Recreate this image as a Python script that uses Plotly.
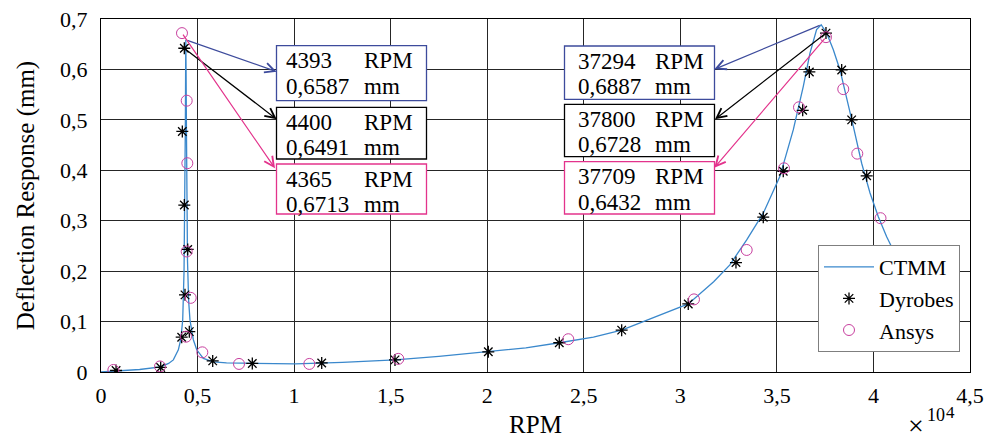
import plotly.graph_objects as go

# ---------------- data ----------------
ctmm_rpm = [0, 1000, 2000, 3091, 3500, 3746, 4005, 4128, 4231, 4300, 4340, 4370, 4385, 4393,
            4405, 4425, 4450, 4480, 4540, 4608, 4781, 4957, 5300, 5818, 6500, 7720, 9000,
            10052, 12500, 15224, 17500, 20056, 22000, 23732, 25500, 26962, 28098, 29500,
            30411, 31726, 32554, 33436, 34295, 35158, 35848, 36365, 36711, 37056, 37294,
            37577, 37922, 38268, 38613, 38958, 39390, 39822, 40253, 40685, 41223, 41500]
ctmm_mm = [0.000, 0.003, 0.005, 0.010, 0.017, 0.024, 0.044, 0.064, 0.103, 0.200, 0.330, 0.500,
           0.620, 0.6587, 0.600, 0.480, 0.330, 0.220, 0.140, 0.103, 0.064, 0.044, 0.027, 0.020,
           0.018, 0.017, 0.016, 0.016, 0.019, 0.024, 0.031, 0.040, 0.048, 0.058, 0.069, 0.083,
           0.100, 0.120, 0.135, 0.179, 0.212, 0.262, 0.315, 0.388, 0.480, 0.566, 0.632, 0.679,
           0.6887, 0.672, 0.639, 0.599, 0.546, 0.487, 0.414, 0.355, 0.308, 0.268, 0.226, 0.212]

dyrobes_rpm = [780, 3091, 4179, 4573, 4350, 4490, 4314, 4211, 4314, 5784, 7835, 11429, 15224,
               20056, 23732, 26962, 30411, 32881, 34295, 35330, 36336, 36681, 37542, 38355,
               38872, 39650]
dyrobes_mm = [0.003, 0.009, 0.069, 0.080, 0.153, 0.243, 0.331, 0.477, 0.642, 0.022, 0.017,
              0.018, 0.024, 0.040, 0.058, 0.083, 0.135, 0.217, 0.307, 0.398, 0.519, 0.595,
              0.672, 0.599, 0.500, 0.389]

ansys_rpm = [640, 3055, 4401, 4645, 4438, 4470, 4438, 4194, 5246, 7146, 10786, 15395, 24197,
             30707, 33436, 35367, 36145, 37542, 38437, 39163, 40366, 41230]
ansys_mm = [0.004, 0.011, 0.070, 0.147, 0.239, 0.414, 0.538, 0.672, 0.039, 0.016, 0.016,
            0.026, 0.065, 0.144, 0.242, 0.404, 0.525, 0.664, 0.561, 0.433, 0.305, 0.228]

x_tick_vals = [0, 5000, 10000, 15000, 20000, 25000, 30000, 35000, 40000, 45000]
x_tick_text = ["0", "0,5", "1", "1,5", "2", "2,5", "3", "3,5", "4", "4,5"]
y_tick_vals = [0, 0.1, 0.2, 0.3, 0.4, 0.5, 0.6, 0.7]
y_tick_text = ["0", "0,1", "0,2", "0,3", "0,4", "0,5", "0,6", "0,7"]

series_names = ["CTMM", "Dyrobes", "Ansys"]
peak_rpm_left = [4393, 4400, 4365]
peak_mm_left = ["0,6587", "0,6491", "0,6713"]
peak_rpm_right = [37294, 37800, 37709]
peak_mm_right = ["0,6887", "0,6728", "0,6432"]

# ---------------- geometry ----------------
W, H = 999, 442
L, R, T, B = 101, 29, 19, 70
PW, PH = W - L - R, H - T - B
XMAX, YMAX = 45000, 0.7
FONT = "Liberation Serif"


def px_paper_x(p):
    return (p - L) / PW


def px_paper_y(p):
    return (H - B - p) / PH


def px_data_x(p):
    return px_paper_x(p) * XMAX


def px_data_y(p):
    return px_paper_y(p) * YMAX


BLUE_LINE = "#3a88cc"
BOX_COLORS = ["#3d4b9c", "#000000", "#e3338c"]
MAG = "#c8409f"

fig = go.Figure()
fig.add_trace(go.Scatter(x=ctmm_rpm, y=ctmm_mm, mode="lines", name="CTMM",
                         line=dict(color=BLUE_LINE, width=1.3)))
fig.add_trace(go.Scatter(x=dyrobes_rpm, y=dyrobes_mm, mode="markers", name="Dyrobes",
                         marker=dict(symbol="asterisk-open", size=10, color="black",
                                     line=dict(color="black", width=1.3))))
fig.add_trace(go.Scatter(x=ansys_rpm, y=ansys_mm, mode="markers", name="Ansys",
                         marker=dict(symbol="circle-open", size=11, color=MAG,
                                     line=dict(color=MAG, width=1))))

shapes = []
annotations = []

# box geometry (pixel positions)
boxes = {
    "left": dict(x0=276.5, x1=426.5, xnum=284.5, xunit=362.5,
                 tops=[45.7, 107.3, 164.0], bots=[100.7, 159.0, 214.0],
                 heads=[(276.7, 71.7), (276.7, 119.3), (275.0, 168.3)]),
    "right": dict(x0=564.5, x1=714.5, xnum=576.5, xunit=654.0,
                  tops=[46.0, 104.3, 161.7], bots=[99.3, 156.7, 214.0],
                  heads=[(714.3, 69.3), (715.0, 119.3), (714.3, 167.7)]),
}

all_series = [(ctmm_rpm, ctmm_mm), (dyrobes_rpm, dyrobes_mm), (ansys_rpm, ansys_mm)]


def peak_point(xs, ys, side):
    pts = [(x, y) for x, y in zip(xs, ys) if (x < 20000) == (side == "left")]
    return max(pts, key=lambda p: p[1])


for side, rpms, mms in [("left", peak_rpm_left, peak_mm_left),
                        ("right", peak_rpm_right, peak_mm_right)]:
    g = boxes[side]
    for i in range(3):
        col = BOX_COLORS[i]
        top, bot = g["tops"][i], g["bots"][i]
        shapes.append(dict(type="rect", xref="paper", yref="paper",
                           x0=px_paper_x(g["x0"]), x1=px_paper_x(g["x1"]),
                           y0=px_paper_y(bot), y1=px_paper_y(top),
                           line=dict(color=col, width=1.3), fillcolor="white", layer="above"))
        l1 = top + 15.0
        l2 = top + 40.5
        for txt, xp, yp in [(str(rpms[i]), g["xnum"], l1), ("RPM", g["xunit"], l1),
                            (mms[i], g["xnum"], l2), ("mm", g["xunit"], l2)]:
            annotations.append(dict(text=txt, xref="paper", yref="paper",
                                    x=px_paper_x(xp), y=px_paper_y(yp),
                                    xanchor="left", yanchor="middle", showarrow=False,
                                    borderpad=0,
                                    font=dict(family=FONT, size=23, color="black")))
        tx, ty = peak_point(all_series[i][0], all_series[i][1], side)
        hx, hy = g["heads"][i]
        annotations.append(dict(text="", x=px_data_x(hx), y=px_data_y(hy), xref="x", yref="y",
                                ax=tx, ay=ty, axref="x", ayref="y", showarrow=True,
                                arrowhead=5, arrowsize=1.6, arrowwidth=1.2, arrowcolor=col,
                                standoff=0, startstandoff=0))

# x10^4 exponent label
annotations.append(dict(text="×", xref="paper", yref="paper", x=px_paper_x(916),
                        y=px_paper_y(425), xanchor="center", yanchor="middle",
                        showarrow=False, borderpad=0,
                        font=dict(family=FONT, size=28, color="black")))
annotations.append(dict(text="10", xref="paper", yref="paper", x=px_paper_x(935.5),
                        y=px_paper_y(414.5), xanchor="center", yanchor="middle",
                        showarrow=False, borderpad=0,
                        font=dict(family=FONT, size=18, color="black")))
annotations.append(dict(text="4", xref="paper", yref="paper", x=px_paper_x(950.5),
                        y=px_paper_y(412.5), xanchor="center", yanchor="middle",
                        showarrow=False, borderpad=0,
                        font=dict(family=FONT, size=17, color="black")))

axis_common = dict(showline=True, linecolor="black", linewidth=1.2, mirror=True,
                   showgrid=True, gridcolor="#262626", gridwidth=1, zeroline=False,
                   ticks="", automargin=False,
                   tickfont=dict(family=FONT, size=22, color="black"))

fig.update_layout(
    width=W, height=H,
    margin=dict(l=L, r=R, t=T, b=B, pad=0, autoexpand=False),
    paper_bgcolor="white", plot_bgcolor="white",
    font=dict(family=FONT, color="black"),
    xaxis=dict(range=[0, XMAX], tickvals=x_tick_vals, ticktext=x_tick_text,
               title=dict(text="RPM", font=dict(family=FONT, size=25), standoff=8),
               ticklabelstandoff=3, **axis_common),
    yaxis=dict(range=[0, YMAX], tickvals=y_tick_vals, ticktext=y_tick_text,
               title=dict(text="Deflection Response (mm)", font=dict(family=FONT, size=25),
                          standoff=18),
               ticklabelstandoff=8, **axis_common),
    legend=dict(x=px_paper_x(960), y=px_paper_y(352), xanchor="right", yanchor="bottom",
                bgcolor="white", bordercolor="#7f7f7f", borderwidth=1,
                font=dict(family=FONT, size=22, color="black"),
                tracegroupgap=0, itemwidth=50),
    shapes=shapes,
    annotations=annotations,
    showlegend=True,
)

fig.write_html("out.html")
